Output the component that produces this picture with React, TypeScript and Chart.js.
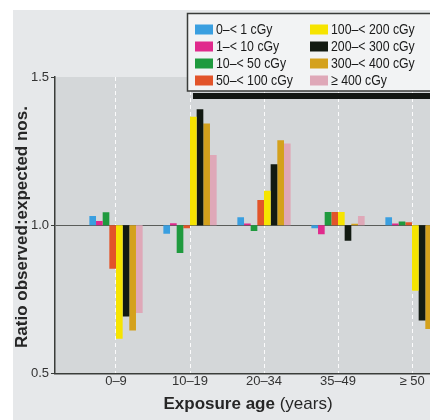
import React, { useEffect, useRef } from 'react';
import { Chart, registerables } from 'chart.js';

Chart.register(...registerables);

const ageGroups = ['0–9', '10–19', '20–34', '35–49', '≥ 50'];
const doseLabels = [
  '0–< 1 cGy',
  '1–< 10 cGy',
  '10–< 50 cGy',
  '50–< 100 cGy',
  '100–< 200 cGy',
  '200–< 300 cGy',
  '300–< 400 cGy',
  '≥ 400 cGy',
];
const dose0to1 = [1.031, 0.971, 1.027, 0.99, 1.027];
const dose1to10 = [1.014, 1.007, 1.006, 0.97, 1.006];
const dose10to50 = [1.044, 0.906, 0.981, 1.045, 1.013];
const dose50to100 = [0.853, 0.99, 1.085, 1.045, 1.01];
const dose100to200 = [0.617, 1.366, 1.116, 1.045, 0.779];
const dose200to300 = [0.692, 1.391, 1.206, 0.948, 0.679];
const dose300to400 = [0.645, 1.343, 1.287, 1.005, 0.65];
const dose400plus = [0.704, 1.237, 1.276, 1.031, 0.72];
const seriesValues = [
  dose0to1,
  dose1to10,
  dose10to50,
  dose50to100,
  dose100to200,
  dose200to300,
  dose300to400,
  dose400plus,
];
const doseColors = [
  '#3a9fe0',
  '#e02a8c',
  '#1f9a3e',
  '#e2542a',
  '#f6e400',
  '#121a12',
  '#d4a11c',
  '#dfa8b8',
];
const baseline = 1.0;
const yTicks = [0.5, 1.0, 1.5];
const yTitle = 'Ratio observed:expected nos.';
const xTitleBold = 'Exposure age';
const xTitleNormal = ' (years)';

const FONT = '"Liberation Sans", Arial, sans-serif';

export default function App() {
  const ref = useRef<HTMLCanvasElement>(null);

  useEffect(() => {
    const canvas = ref.current;
    if (!canvas) return;

    const bgPlugin = {
      id: 'bg',
      beforeDraw(chart: any) {
        const { ctx, chartArea: a } = chart;
        ctx.save();
        ctx.fillStyle = '#ffffff';
        ctx.fillRect(0, 0, chart.width, chart.height);
        ctx.fillStyle = '#e6e8ea';
        ctx.fillRect(13, 10, chart.width - 13, chart.height - 10);
        ctx.fillStyle = '#d4d7d9';
        ctx.fillRect(a.left, a.top, a.right - a.left, a.bottom - a.top);
        ctx.restore();
      },
    };

    const decorPlugin = {
      id: 'decor',
      afterDraw(chart: any) {
        const { ctx } = chart;
        ctx.save();
        // y title
        ctx.fillStyle = '#262626';
        ctx.font = `bold 17px ${FONT}`;
        ctx.textAlign = 'center';
        ctx.textBaseline = 'middle';
        ctx.translate(22, 227);
        ctx.rotate(-Math.PI / 2);
        ctx.fillText(yTitle, 0, 0);
        ctx.restore();

        // x title (mixed weight)
        ctx.save();
        ctx.fillStyle = '#262626';
        ctx.textBaseline = 'middle';
        ctx.textAlign = 'left';
        ctx.font = `bold 17px ${FONT}`;
        const wb = ctx.measureText(xTitleBold).width;
        ctx.font = `17px ${FONT}`;
        const wn = ctx.measureText(xTitleNormal).width;
        const x0 = 248 - (wb + wn) / 2;
        ctx.font = `bold 17px ${FONT}`;
        ctx.fillText(xTitleBold, x0, 404);
        ctx.font = `17px ${FONT}`;
        ctx.fillText(xTitleNormal, x0 + wb, 404);
        ctx.restore();

        // legend box
        ctx.save();
        ctx.fillStyle = '#121612';
        ctx.fillRect(193, 93, chart.width - 193, 6);
        ctx.fillStyle = '#f2f3f4';
        ctx.fillRect(187, 13, chart.width - 187 + 5, 78);
        ctx.strokeStyle = '#3a3c3a';
        ctx.lineWidth = 1.5;
        ctx.strokeRect(187.5, 13.5, chart.width - 187 + 5, 77.5);
        ctx.textBaseline = 'middle';
        ctx.textAlign = 'left';
        chart.data.datasets.forEach((ds: any, i: number) => {
          const col = Math.floor(i / 4);
          const row = i % 4;
          const sx = col === 0 ? 195 : 310;
          const cy = 29.5 + row * 17;
          ctx.fillStyle = ds.backgroundColor;
          ctx.fillRect(sx, cy - 5, 18, 10);
          ctx.save();
          ctx.translate(sx + 21, cy + 0.5);
          ctx.scale(0.82, 1);
          ctx.font = `15px ${FONT}`;
          ctx.fillStyle = '#1a1a1a';
          ctx.fillText(ds.label, 0, 0);
          ctx.restore();
        });
        ctx.restore();
      },
    };

    const chart = new Chart(canvas, {
      type: 'bar',
      data: {
        datasets: doseLabels.map((label, i) => ({
          label,
          data: seriesValues[i].map((v, j) => ({ x: j, y: [baseline, v] })),
          backgroundColor: doseColors[i],
          borderWidth: 0,
          categoryPercentage: 0.72,
          barPercentage: 1.0,
        })),
      } as any,
      options: {
        responsive: false,
        animation: false,
        devicePixelRatio: 1,
        layout: { padding: { top: 77, left: 0, right: 0, bottom: 0 } },
        plugins: {
          legend: { display: false },
          tooltip: { enabled: false },
        },
        scales: {
          x: {
            type: 'linear',
            offset: false,
            min: -0.8243,
            max: 4.2432,
            afterBuildTicks: (s: any) => {
              s.ticks = ageGroups.map((_, i) => ({ value: i }));
            },
            afterFit: (s: any) => {
              s.height = 46.5;
            },
            ticks: {
              callback: (v: any) => ageGroups[Number(v)] ?? '',
              font: { size: 13, family: FONT },
              color: '#333333',
              padding: 0,
              autoSkip: false,
              maxRotation: 0,
            },
            grid: {
              offset: false,
              color: 'rgba(255,255,255,0.9)',
              lineWidth: 1,
              drawTicks: false,
            },
            border: { display: true, color: '#3a3d3a', width: 1.5, dash: [4, 3] },
          },
          y: {
            min: 0.5,
            max: 1.5,
            afterBuildTicks: (s: any) => {
              s.ticks = yTicks.map((v) => ({ value: v }));
            },
            afterFit: (s: any) => {
              s.width = 55;
            },
            ticks: {
              callback: (v: any) => Number(v).toFixed(1),
              font: { size: 13, family: FONT },
              color: '#333333',
              padding: 2,
            },
            grid: {
              color: (c: any) =>
                c.tick && Math.abs(c.tick.value - baseline) < 1e-9 ? '#5a5d5a' : 'rgba(0,0,0,0)',
              tickColor: '#3a3d3a',
              tickLength: 4,
              lineWidth: 1,
            },
            border: { display: true, color: '#3a3d3a', width: 1.5 },
          },
        },
      } as any,
      plugins: [bgPlugin, decorPlugin],
    });

    return () => chart.destroy();
  }, []);

  return (
    <div style={{ position: 'fixed', left: 0, top: 0, width: 430, height: 420, overflow: 'hidden' }}>
      <canvas ref={ref} width={430} height={420} style={{ display: 'block', width: 430, height: 420 }} />
    </div>
  );
}
